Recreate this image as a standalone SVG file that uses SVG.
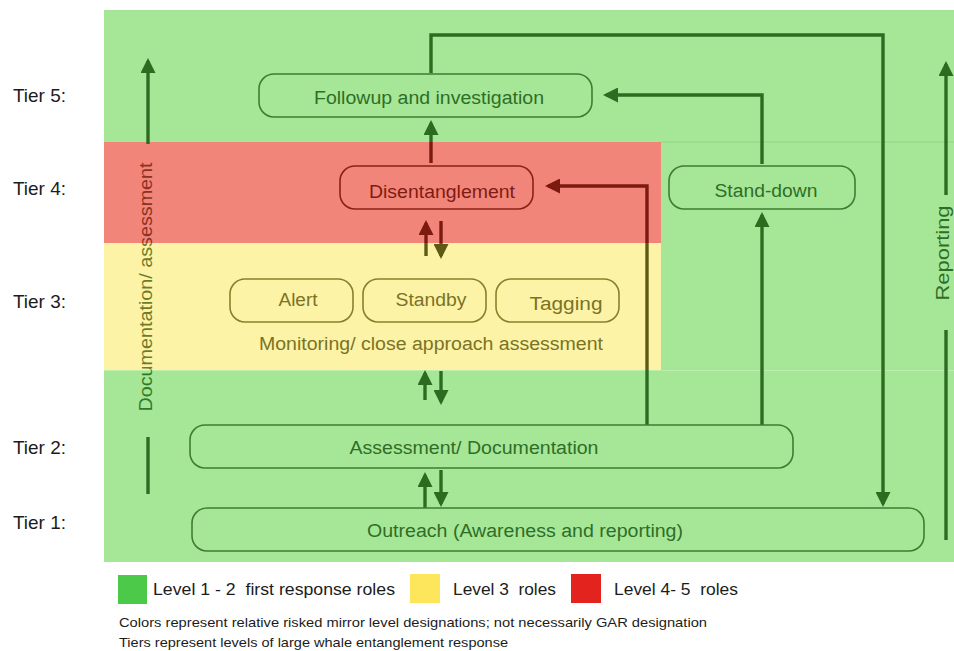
<svg xmlns="http://www.w3.org/2000/svg" width="954" height="651" viewBox="0 0 954 651">
<style>
  text { font-family: "Liberation Sans", Arial, sans-serif; white-space: pre; }
  .box { fill: none; stroke: #3f7d31; stroke-width: 1.6; }
  .boxR { fill: none; stroke: #8a2214; stroke-width: 1.6; }
  .boxY { fill: none; stroke: #8c7f2c; stroke-width: 1.6; }
  .tG { fill: #2f6e26; font-size: 18px; }
  .tR { fill: #7f1c12; font-size: 18px; }
  .tY { fill: #7a7326; font-size: 18px; }
  .tier { fill: #1c1c1c; font-size: 19px; }
  .leg { fill: #1c1c1c; font-size: 17px; }
  .note { fill: #1c1c1c; font-size: 13px; }
  .lg { fill: none; stroke: #2b6c21; stroke-width: 3.4; }
  .lr { fill: none; stroke: #7c1a10; stroke-width: 3.4; }
  .ly { fill: none; stroke: #5e5a16; stroke-width: 3.4; }
</style>
<defs>
  <marker id="aG" markerUnits="userSpaceOnUse" markerWidth="15" markerHeight="15" refX="12" refY="7.5" orient="auto">
    <path d="M0,0 L15,7.5 L0,15 z" fill="#2b6c21"/>
  </marker>
  <marker id="aR" markerUnits="userSpaceOnUse" markerWidth="15" markerHeight="15" refX="12" refY="7.5" orient="auto">
    <path d="M0,0 L15,7.5 L0,15 z" fill="#7c1a10"/>
  </marker>
  <marker id="aY" markerUnits="userSpaceOnUse" markerWidth="15" markerHeight="15" refX="12" refY="7.5" orient="auto">
    <path d="M0,0 L15,7.5 L0,15 z" fill="#5e5a16"/>
  </marker>
  <linearGradient id="docGrad" gradientUnits="userSpaceOnUse" x1="0" y1="0" x2="500" y2="0">
    <stop offset="0" stop-color="#2f7a26"/>
    <stop offset="0.138" stop-color="#2f7a26"/>
    <stop offset="0.138" stop-color="#6f7a2a"/>
    <stop offset="0.392" stop-color="#6f7a2a"/>
    <stop offset="0.392" stop-color="#8a3322"/>
    <stop offset="0.594" stop-color="#8a3322"/>
    <stop offset="0.594" stop-color="#2f7a26"/>
    <stop offset="1" stop-color="#2f7a26"/>
  </linearGradient>
</defs>

<rect width="954" height="651" fill="#ffffff"/>

<g id="bands">
  <rect x="104" y="10" width="850" height="552" fill="#a6e797"/>
  <rect x="104" y="142" width="557" height="101" fill="#f2857a"/>
  <rect x="104" y="243" width="557" height="127" fill="#fdf3a6"/>
  <line x1="661" y1="142" x2="954" y2="142" stroke="#93d585" stroke-width="1"/>
  <line x1="104" y1="370.5" x2="954" y2="370.5" stroke="#bdeeae" stroke-width="1"/>
</g>

<g id="tiers">
  <text class="tier" x="13" y="102" textLength="53" lengthAdjust="spacingAndGlyphs">Tier 5:</text>
  <text class="tier" x="13" y="195" textLength="53" lengthAdjust="spacingAndGlyphs">Tier 4:</text>
  <text class="tier" x="13" y="308" textLength="53" lengthAdjust="spacingAndGlyphs">Tier 3:</text>
  <text class="tier" x="13" y="454" textLength="53" lengthAdjust="spacingAndGlyphs">Tier 2:</text>
  <text class="tier" x="13" y="529" textLength="53" lengthAdjust="spacingAndGlyphs">Tier 1:</text>
</g>

<g id="connectors">
  <path class="lg" d="M425,508 L425,475" marker-end="url(#aG)"/>
  <path class="lg" d="M441,470 L441,504" marker-end="url(#aG)"/>
  <path class="lg" d="M425,400 L425,373" marker-end="url(#aG)"/>
  <path class="lg" d="M441,371 L441,402" marker-end="url(#aG)"/>
  <path class="ly" d="M426,256 L426,243"/>
  <path class="lr" d="M426,243 L426,223" marker-end="url(#aR)"/>
  <path class="lr" d="M441,221 L441,243"/>
  <path class="ly" d="M441,243 L441,256" marker-end="url(#aY)"/>
  <path class="lr" d="M431,163 L431,142"/>
  <path class="lg" d="M431,142 L431,123" marker-end="url(#aG)"/>
  <path class="lg" d="M647,425 L647,370"/>
  <path class="ly" d="M647,370 L647,243"/>
  <path class="lr" d="M647,243 L647,186 L548,186" marker-end="url(#aR)"/>
  <path class="lg" d="M762,425 L762,215" marker-end="url(#aG)"/>
  <path class="lg" d="M762,164 L762,95 L606,95" marker-end="url(#aG)"/>
  <path class="lg" d="M431,73 L431,35 L883,35 L883,504" marker-end="url(#aG)"/>
  <path class="lg" d="M148,144 L148,61" marker-end="url(#aG)"/>
  <path class="lg" d="M148,437 L148,494"/>
  <path class="lg" d="M946,195 L946,64" marker-end="url(#aG)"/>
  <path class="lg" d="M946,330 L946,540"/>
</g>

<g id="side-labels">
  <text x="152" y="287" transform="rotate(-90 152 287)" text-anchor="middle" font-size="18" fill="url(#docGrad)" textLength="249" lengthAdjust="spacingAndGlyphs">Documentation/ assessment</text>
  <text x="949" y="253" transform="rotate(-90 949 253)" text-anchor="middle" class="tG" textLength="95" lengthAdjust="spacingAndGlyphs">Reporting</text>
</g>

<g id="followup">
  <rect class="box" x="259" y="74" width="333" height="43" rx="15"/>
  <text class="tG" x="429" y="104" text-anchor="middle" textLength="230" lengthAdjust="spacingAndGlyphs">Followup and investigation</text>
</g>
<g id="disentanglement">
  <rect class="boxR" x="340" y="166" width="193" height="43" rx="15"/>
  <text class="tR" x="442" y="198" text-anchor="middle" textLength="146" lengthAdjust="spacingAndGlyphs">Disentanglement</text>
</g>
<g id="standdown">
  <rect class="box" x="669" y="166" width="186" height="43" rx="15"/>
  <text class="tG" x="766" y="197" text-anchor="middle" textLength="103" lengthAdjust="spacingAndGlyphs">Stand-down</text>
</g>
<g id="alert">
  <rect class="boxY" x="230" y="279" width="123" height="43" rx="15"/>
  <text class="tY" x="298" y="306" text-anchor="middle" textLength="39" lengthAdjust="spacingAndGlyphs">Alert</text>
</g>
<g id="standby">
  <rect class="boxY" x="363" y="279" width="123" height="43" rx="15"/>
  <text class="tY" x="431" y="306" text-anchor="middle" textLength="71" lengthAdjust="spacingAndGlyphs">Standby</text>
</g>
<g id="tagging">
  <rect class="boxY" x="496" y="279" width="123" height="43" rx="15"/>
  <text class="tY" x="566" y="310" text-anchor="middle" textLength="73" lengthAdjust="spacingAndGlyphs">Tagging</text>
</g>
<g id="monitoring">
  <text class="tY" x="431" y="350" text-anchor="middle" textLength="344" lengthAdjust="spacingAndGlyphs">Monitoring/ close approach assessment</text>
</g>
<g id="assessment">
  <rect class="box" x="190" y="425" width="603" height="43" rx="15"/>
  <text class="tG" x="474" y="454" text-anchor="middle" textLength="249" lengthAdjust="spacingAndGlyphs">Assessment/ Documentation</text>
</g>
<g id="outreach">
  <rect class="box" x="192" y="508" width="732" height="43" rx="15"/>
  <text class="tG" x="525" y="537" text-anchor="middle" textLength="316" lengthAdjust="spacingAndGlyphs">Outreach (Awareness and reporting)</text>
</g>

<g id="legend">
  <rect x="118" y="575" width="29" height="29" fill="#4dc94a"/>
  <text class="leg" x="153" y="595" textLength="242" lengthAdjust="spacingAndGlyphs">Level 1 - 2  first response roles</text>
  <rect x="410" y="574" width="30" height="29" fill="#fde65c"/>
  <text class="leg" x="453" y="595" textLength="103" lengthAdjust="spacingAndGlyphs">Level 3  roles</text>
  <rect x="571" y="574" width="30" height="29" fill="#e3231d"/>
  <text class="leg" x="614" y="595" textLength="124" lengthAdjust="spacingAndGlyphs">Level 4- 5  roles</text>
  <text class="note" x="119" y="627" textLength="588" lengthAdjust="spacingAndGlyphs">Colors represent relative risked mirror level designations; not necessarily GAR designation</text>
  <text class="note" x="119" y="647" textLength="389" lengthAdjust="spacingAndGlyphs">Tiers represent levels of large whale entanglement response</text>
</g>
</svg>
